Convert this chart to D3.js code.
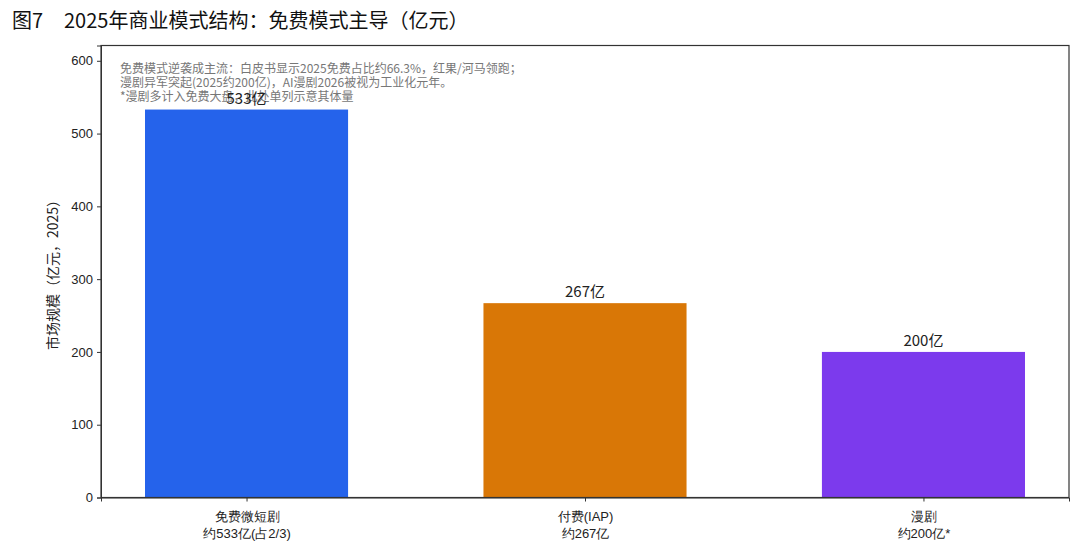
<!DOCTYPE html>
<html>
<head>
<meta charset="utf-8">
<script src="https://cdn.jsdelivr.net/npm/d3@7"></script>
<style>
  body { margin: 0; background: #fff; }
  svg { font-family: "Noto Sans CJK SC", "Noto Sans", sans-serif; }
  .axis text { font-size: 13px; fill: #222; }
  .axis path, .axis line { stroke: #333; }
</style>
</head>
<body>
<div class="graph"></div>
<script>
// categories (two-line tick labels), values in 亿元
var categories = ['免费微短剧', '付费(IAP)', '漫剧'];
var subLabels = ['约533亿(占2/3)', '约267亿', '约200亿*'];
var values = [533, 267, 200];
var valueLabels = ['533亿', '267亿', '200亿'];
var yTicks = [0, 100, 200, 300, 400, 500, 600];
var colors = ['#2563eb', '#d97706', '#7c3aed'];
var notes = [
  '免费模式逆袭成主流：白皮书显示2025免费占比约66.3%，红果/河马领跑；',
  '漫剧异军突起(2025约200亿)，AI漫剧2026被视为工业化元年。',
  '*漫剧多计入免费大盘，此处单列示意其体量'
];

var margin = {top: 45.5, right: 11, bottom: 55.5, left: 101},
    width = 1080 - margin.left - margin.right,
    height = 553 - margin.top - margin.bottom;

var svg = d3.select('.graph').append('svg')
    .attr('width', 1080)
    .attr('height', 553);

svg.append('text')
    .attr('x', 12)
    .attr('y', 28)
    .style('font-size', '20px')
    .style('fill', '#111')
    .text('图7');
svg.append('text')
    .attr('x', 64)
    .attr('y', 28)
    .style('font-size', '20px')
    .style('fill', '#111')
    .text('2025年商业模式结构：免费模式主导（亿元）');

var g = svg.append('g')
    .attr('transform', 'translate(' + margin.left + ',' + margin.top + ')');

// matplotlib-like x: bars 0.6 wide, 5% margin
var x = d3.scaleLinear().domain([-0.43, 2.43]).range([0, width]);
var y = d3.scaleLinear().domain([0, 621]).range([height, 0]);

g.selectAll('.bar')
    .data(values)
    .enter().append('rect')
    .attr('class', 'bar')
    .attr('x', function(d, i) { return x(i - 0.3); })
    .attr('width', function(d, i) { return x(i + 0.3) - x(i - 0.3); })
    .attr('y', function(d) { return y(d); })
    .attr('height', function(d) { return height - y(d); })
    .style('fill', function(d, i) { return colors[i]; });

// note box text (drawn under value labels, overlaps as in the source)
g.selectAll('.note')
    .data(notes)
    .enter().append('text')
    .attr('class', 'note')
    .attr('x', 19)
    .attr('y', function(d, i) { return 27 + i * 14; })
    .style('font-size', '12px')
    .style('fill', '#777')
    .text(function(d) { return d; });

g.selectAll('.vlabel')
    .data(values)
    .enter().append('text')
    .attr('class', 'vlabel')
    .attr('x', function(d, i) { return x(i); })
    .attr('y', function(d) { return y(d) - 6; })
    .attr('text-anchor', 'middle')
    .style('font-size', '15px')
    .style('fill', '#222')
    .text(function(d, i) { return valueLabels[i]; });

var yAxis = d3.axisLeft(y).tickValues(yTicks).tickSize(4).tickPadding(4);
g.append('g')
    .attr('class', 'axis y')
    .call(yAxis);

var xAxis = d3.axisBottom(x).tickValues([0, 1, 2]).tickSize(4).tickFormat('');
var xg = g.append('g')
    .attr('class', 'axis x')
    .attr('transform', 'translate(0,' + height + ')')
    .call(xAxis);

xg.selectAll('.tick').each(function(d) {
  var t = d3.select(this).append('text')
      .attr('text-anchor', 'middle')
      .style('font-size', '13px')
      .style('fill', '#222');
  t.append('tspan').attr('x', 0).attr('y', 23).text(categories[d]);
  t.append('tspan').attr('x', 0).attr('y', 40).text(subLabels[d]);
});

// frame
g.append('rect')
    .attr('width', width)
    .attr('height', height)
    .style('fill', 'none')
    .style('stroke', '#333')
    .style('stroke-width', 1.2);

svg.append('text')
    .attr('transform', 'translate(58,' + (margin.top + height / 2) + ') rotate(-90)')
    .attr('text-anchor', 'middle')
    .style('font-size', '14px')
    .style('fill', '#222')
    .text('市场规模（亿元，2025）');
</script>
</body>
</html>
